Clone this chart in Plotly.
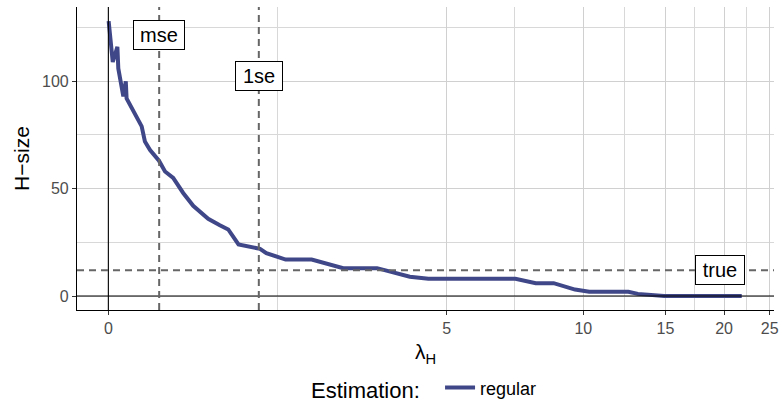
import numpy as np
import plotly.graph_objects as go

# Regularisation path: penalty lambda_H vs. resulting H-size
lambda_h = [0.003, 0.043, 0.088, 0.097, 0.146, 0.170, 0.178, 0.244, 0.326, 0.358,
            0.409, 0.498, 0.559, 0.642, 0.745, 0.850, 1.011, 1.140, 1.235, 1.354,
            1.615, 1.695, 1.949, 2.32, 2.82, 3.43, 3.76, 4.11, 4.54, 7.12,
            7.89, 8.63, 9.6, 10.3, 12.5, 13.1, 14.9, 21.8]
h_size = [128, 109, 116, 106, 93, 100, 92, 86, 79, 72,
          68, 63, 58, 55, 48, 42, 36, 33, 31, 24,
          22, 20, 17, 17, 13, 13, 11, 9, 8, 8,
          6, 6, 3, 2, 2, 1, 0, 0]

lambda_mse = 0.5
lambda_1se = 1.6
true_size = 12
true_label_lambda = 19.6

x_breaks = [0, 5, 10, 15, 20, 25]
y_breaks = [0, 50, 100]
y_minor = [25, 75, 125]

FONT = "Liberation Sans, Arial, sans-serif"
LINE_COL = "#404788"
REF_COL = "#666666"


def pseudo_log(v):
    """asinh-based pseudo-log transform (sigma = 1)."""
    return np.arcsinh(np.asarray(v, dtype=float) / 2.0)


tx = pseudo_log(lambda_h)
tb = pseudo_log(x_breaks)
t_minor = (tb[:-1] + tb[1:]) / 2

# panel limits with 5% expansion around the data
t_lo, t_hi = pseudo_log(min(lambda_h)), pseudo_log(max(lambda_h))
pad = 0.05 * (t_hi - t_lo)
x_range = [t_lo - pad, t_hi + pad + 0.003]
y_pad = 0.05 * (max(h_size) - min(h_size))
y_range = [min(h_size) - y_pad - 0.1, max(h_size) + y_pad + 0.2]

fig = go.Figure()

fig.add_trace(go.Scatter(
    x=tx, y=h_size, mode="lines", name="regular",
    line=dict(color=LINE_COL, width=4),
    showlegend=True,
))

# solid reference axes at zero
fig.add_hline(y=0, line=dict(color="black", width=1.1), layer="above")
fig.add_vline(x=0, line=dict(color="black", width=1.1), layer="above")

# dashed markers: selected lambdas and the true size
dash = "7px,5px"
fig.add_vline(x=float(pseudo_log(lambda_mse)), line=dict(color=REF_COL, width=2, dash=dash))
fig.add_vline(x=float(pseudo_log(lambda_1se)), line=dict(color=REF_COL, width=2, dash=dash))
fig.add_hline(y=true_size, line=dict(color=REF_COL, width=2, dash=dash))

label_style = dict(
    showarrow=False, font=dict(family=FONT, size=20, color="black"),
    bgcolor="white", bordercolor="black", borderwidth=1, borderpad=3,
    height=22, xanchor="center", yanchor="middle",
)
ymax = max(h_size)
fig.add_annotation(x=float(pseudo_log(lambda_mse)), y=0.95 * ymax, text="mse", width=44, **label_style)
fig.add_annotation(x=float(pseudo_log(lambda_1se)), y=0.8 * ymax, text="1se", width=40, **label_style)
fig.add_annotation(x=float(pseudo_log(true_label_lambda)), y=true_size, text="true", width=42, **label_style)

fig.update_layout(
    width=782, height=403,
    margin=dict(l=77, r=8, t=7, b=93, autoexpand=False),
    plot_bgcolor="white", paper_bgcolor="white",
    font=dict(family=FONT, color="black"),
    xaxis=dict(
        range=x_range, tickvals=tb, ticktext=[str(v) for v in x_breaks],
        showgrid=True, gridcolor="#d0d0d0", gridwidth=1,
        minor=dict(tickvals=t_minor, showgrid=True, gridcolor="#d8d8d8", gridwidth=0.8, ticks=""),
        zeroline=False, showline=True, linecolor="black", linewidth=1.2,
        ticks="outside", ticklen=4, tickcolor="#333333", tickwidth=1,
        tickfont=dict(size=16, color="#4d4d4d", family=FONT),
        title=dict(text="λ<sub>H</sub>", font=dict(size=21, family=FONT), standoff=8),
    ),
    yaxis=dict(
        range=y_range, tickvals=y_breaks,
        showgrid=True, gridcolor="#d0d0d0", gridwidth=1,
        minor=dict(tickvals=y_minor, showgrid=True, gridcolor="#d8d8d8", gridwidth=0.8, ticks=""),
        zeroline=False, showline=True, linecolor="black", linewidth=1.2,
        ticks="outside", ticklen=4, tickcolor="#333333", tickwidth=1,
        tickfont=dict(size=16, color="#4d4d4d", family=FONT),
        title=dict(text="H−size", font=dict(size=21, family=FONT), standoff=6),
    ),
    legend=dict(
        orientation="h", x=0.5, xanchor="center", y=-0.26, yanchor="middle",
        title=dict(text="Estimation:  ", font=dict(size=22, family=FONT), side="left"),
        font=dict(size=18, family=FONT), itemwidth=30,
    ),
)

fig.write_html("out.html")
